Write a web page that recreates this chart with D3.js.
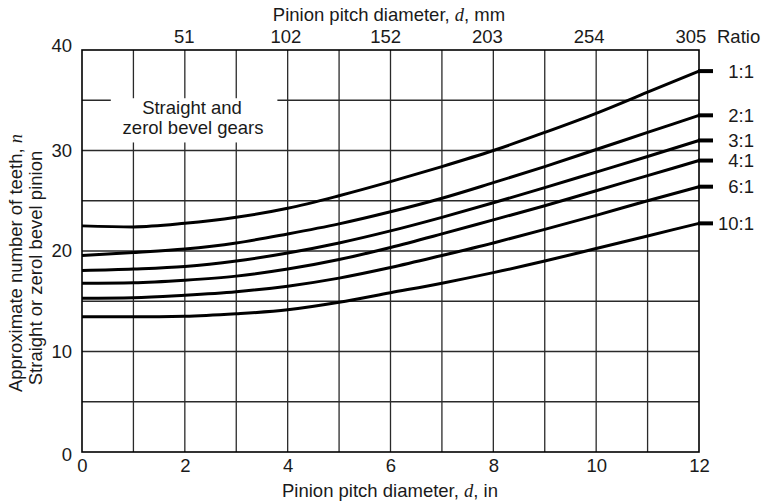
<!DOCTYPE html>
<html>
<head>
<meta charset="utf-8">
<script src="https://cdn.jsdelivr.net/npm/d3@7"></script>
<style>
  body { margin: 0; background: #fff; }
  text { font-family: "Liberation Sans", Arial, sans-serif; fill: #1a1a1a; }
</style>
</head>
<body>
<script>
// pinion pitch diameter, in
const diam = [0, 1, 2, 3, 4, 5, 6, 7, 8, 9, 10, 11, 12];

const ratios = ["1:1", "2:1", "3:1", "4:1", "6:1", "10:1"];

// approximate number of teeth
const teeth1 = [22.5, 22.4, 22.75, 23.35, 24.25, 25.5, 26.9, 28.4, 30.0, 31.8, 33.7, 35.8, 37.9];
const teeth2 = [19.55, 19.85, 20.2, 20.8, 21.7, 22.7, 23.9, 25.25, 26.8, 28.4, 30.1, 31.8, 33.5];
const teeth3 = [18.05, 18.2, 18.45, 19.0, 19.8, 20.8, 22.0, 23.35, 24.8, 26.3, 27.85, 29.4, 31.0];
const teeth4 = [16.8, 16.85, 17.1, 17.5, 18.2, 19.15, 20.35, 21.7, 23.1, 24.5, 26.0, 27.5, 29.0];
const teeth6 = [15.3, 15.35, 15.6, 15.95, 16.5, 17.3, 18.35, 19.55, 20.8, 22.15, 23.55, 25.0, 26.4];
const teeth10 = [13.45, 13.45, 13.5, 13.75, 14.15, 14.9, 15.85, 16.8, 17.85, 19.0, 20.25, 21.5, 22.75];

const xTicks = [0, 2, 4, 6, 8, 10, 12];
const mmTicks = [51, 102, 152, 203, 254, 305];
const yTicks = [0, 10, 20, 30, 40];
const yGrid = [5, 10, 15, 20, 25, 30, 35];
const xGrid = [1, 2, 3, 4, 5, 6, 7, 8, 9, 10, 11];

const series = [teeth1, teeth2, teeth3, teeth4, teeth6, teeth10];

const W = 763, H = 504;
const margin = {top: 50, right: 64, bottom: 52, left: 82},
    width = W - margin.left - margin.right,
    height = H - margin.top - margin.bottom;

const x = d3.scaleLinear().domain([0, 12]).range([0, width]);
const y = d3.scaleLinear().domain([0, 40]).range([height, 0]);
const xMm = d3.scaleLinear().domain([0, 304.8]).range([0, width - 9]);

const svg = d3.select("body").append("svg")
        .attr("width", W)
        .attr("height", H),
    g = svg.append("g")
        .attr("transform", "translate(" + margin.left + "," + margin.top + ")");

// grid
g.selectAll(".vgrid")
    .data(xGrid)
    .enter().append("line")
    .attr("x1", d => x(d)).attr("x2", d => x(d))
    .attr("y1", 0).attr("y2", height)
    .style("stroke", "#2a2a2a")
    .style("stroke-width", 1.3);

g.selectAll(".hgrid")
    .data(yGrid)
    .enter().append("line")
    .attr("x1", 0).attr("x2", width)
    .attr("y1", d => y(d)).attr("y2", d => y(d))
    .style("stroke", "#2a2a2a")
    .style("stroke-width", 1.3);

// label box knocks out the grid
g.append("rect")
    .attr("x", x(0.56)).attr("y", y(35.2))
    .attr("width", x(3.8) - x(0.56))
    .attr("height", y(30.8) - y(35.2))
    .style("fill", "#fff");

g.append("text")
    .attr("x", x(2.14)).attr("y", y(33.6))
    .attr("text-anchor", "middle")
    .style("font-size", "18.5px")
    .text("Straight and");
g.append("text")
    .attr("x", x(2.16)).attr("y", y(31.65))
    .attr("text-anchor", "middle")
    .style("font-size", "18.5px")
    .text("zerol bevel gears");

// frame
g.append("rect")
    .attr("x", 0).attr("y", 0)
    .attr("width", width).attr("height", height)
    .style("fill", "none")
    .style("stroke", "#000")
    .style("stroke-width", 1.6);

// curves
const line = d3.line()
    .x((d, i) => x(diam[i]))
    .y(d => y(d))
    .curve(d3.curveMonotoneX);

g.selectAll(".curve")
    .data(series)
    .enter().append("path")
    .attr("d", d => line(d))
    .style("fill", "none")
    .style("stroke", "#000")
    .style("stroke-width", 3);

// stubs and ratio labels on the right
g.selectAll(".stub")
    .data(series)
    .enter().append("line")
    .attr("x1", width - 1).attr("x2", width + 14)
    .attr("y1", d => y(d[d.length - 1]))
    .attr("y2", d => y(d[d.length - 1]))
    .style("stroke", "#000")
    .style("stroke-width", 4);

g.selectAll(".ratio")
    .data(series)
    .enter().append("text")
    .attr("x", width + 55)
    .attr("y", d => y(d[d.length - 1]))
    .attr("dy", "0.36em")
    .attr("text-anchor", "end")
    .style("font-size", "18.5px")
    .text((d, i) => ratios[i]);

g.append("text")
    .attr("x", width + 18)
    .attr("y", -7)
    .style("font-size", "18.5px")
    .text("Ratio");

// axes (labels only)
const axisLeft = g.append("g")
    .call(d3.axisLeft(y).tickValues(yTicks).tickSize(0).tickPadding(10));
const axisBottom = g.append("g")
    .attr("transform", "translate(0," + height + ")")
    .call(d3.axisBottom(x).tickValues(xTicks).tickSize(0).tickPadding(7));
const axisTop = g.append("g")
    .call(d3.axisTop(xMm).tickValues(mmTicks).tickSize(0).tickPadding(7));

[axisLeft, axisBottom, axisTop].forEach(a => {
    a.select(".domain").remove();
    a.selectAll("text")
        .style("font-size", "18.5px")
        .style("font-family", "'Liberation Sans', Arial, sans-serif")
        .attr("fill", "#1a1a1a");
});
axisLeft.selectAll(".tick").filter(d => d === 40).select("text").attr("dy", "0.1em");
axisLeft.selectAll(".tick").filter(d => d === 0).select("text").attr("dy", "0.45em");

// axis titles
const topTitle = svg.append("text")
    .attr("x", 389).attr("y", 21)
    .attr("text-anchor", "middle")
    .style("font-size", "18.5px");
topTitle.append("tspan").text("Pinion pitch diameter, ");
topTitle.append("tspan").style("font-style", "italic").style("font-family", "'Liberation Serif', serif").text("d");
topTitle.append("tspan").text(", mm");

const botTitle = svg.append("text")
    .attr("x", 390).attr("y", 497)
    .attr("text-anchor", "middle")
    .style("font-size", "18.5px");
botTitle.append("tspan").text("Pinion pitch diameter, ");
botTitle.append("tspan").style("font-style", "italic").style("font-family", "'Liberation Serif', serif").text("d");
botTitle.append("tspan").text(", in");

const yTitle1 = svg.append("text")
    .attr("transform", "translate(22,263) rotate(-90)")
    .attr("text-anchor", "middle")
    .style("font-size", "18.5px");
yTitle1.append("tspan").text("Approximate number of teeth, ");
yTitle1.append("tspan").style("font-style", "italic").style("font-family", "'Liberation Serif', serif").text("n");

svg.append("text")
    .attr("transform", "translate(42,268) rotate(-90)")
    .attr("text-anchor", "middle")
    .style("font-size", "18.5px")
    .text("Straight or zerol bevel pinion");
</script>
</body>
</html>
